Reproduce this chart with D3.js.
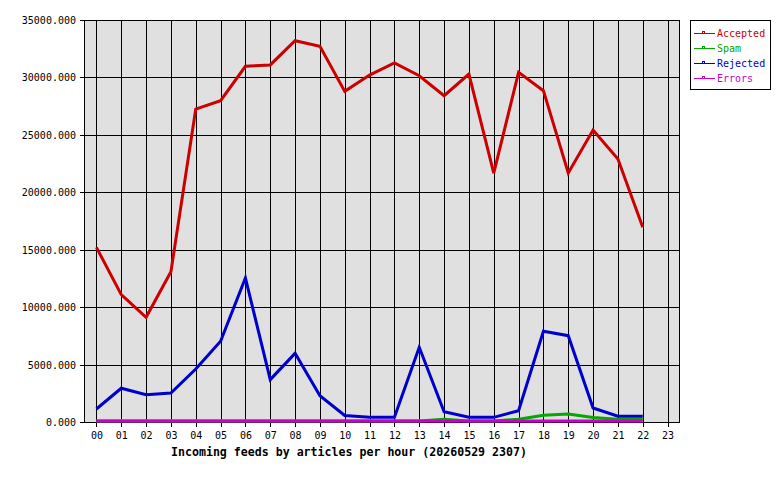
<!DOCTYPE html>
<html>
<head>
<meta charset="utf-8">
<script src="https://cdn.jsdelivr.net/npm/d3@7"></script>
<style>
  html, body { margin: 0; padding: 0; background: #ffffff; }
  svg { display: block; }
  text { font-family: "DejaVu Sans Mono", "Liberation Mono", monospace; }
</style>
</head>
<body>
<svg id="chart" width="780" height="480"></svg>
<script>
const hours = ["00","01","02","03","04","05","06","07","08","09","10","11","12","13","14","15","16","17","18","19","20","21","22","23"];
const accepted = [15120, 11000, 9030, 13000, 27160, 27890, 30880, 31000, 33110, 32620, 28700, 30120, 31170, 30060, 28320, 30210, 21590, 30360, 28760, 21590, 25330, 22810, 16860];
const spam = [0, 0, 0, 0, 0, 0, 0, 0, 0, 0, 0, 0, 0, 0, 150, 0, 0, 150, 500, 600, 300, 150, 150];
const rejected = [1045, 2850, 2290, 2440, 4530, 6940, 12450, 3600, 5890, 2200, 480, 320, 320, 6420, 810, 320, 320, 900, 7810, 7430, 1130, 410, 410];
const errors = [0, 0, 0, 0, 0, 0, 0, 0, 0, 0, 0, 0, 0, 0, 0, 0, 0, 0, 0, 0, 0, 0, 0];
const yTicks = [0, 5000, 10000, 15000, 20000, 25000, 30000, 35000];
const seriesNames = ["Accepted", "Spam", "Rejected", "Errors"];
const seriesColors = ["#cc0000", "#00aa00", "#0000cc", "#cc00cc"];
const title = "Incoming feeds by articles per hour (20260529 2307)";

const svg = d3.select("#chart");
const L = 84, R = 680, T = 20, B = 422;

const x = d3.scalePoint().domain(hours).range([L, R]).padding(0.5);
const y = d3.scaleLinear().domain([0, 35000]).range([B, T]);
const px = v => Math.round(v) + 0.5;

// plot background
svg.append("rect").attr("x", L).attr("y", T).attr("width", R - L).attr("height", B - T)
  .attr("fill", "#e0e0e0");

// grid
const grid = svg.append("g").attr("stroke", "#000").attr("stroke-width", 1).attr("shape-rendering", "crispEdges");
hours.forEach(h => {
  grid.append("line").attr("x1", px(x(h))).attr("x2", px(x(h))).attr("y1", T).attr("y2", B + 5);
});
yTicks.forEach(t => {
  grid.append("line").attr("x1", L - 4).attr("x2", R).attr("y1", px(y(t))).attr("y2", px(y(t)));
});
// frame
grid.append("rect").attr("x", L + 0.5).attr("y", T + 0.5).attr("width", R - L - 1).attr("height", B - T)
  .attr("fill", "none");

// y labels
svg.append("g").selectAll("text").data(yTicks).join("text")
  .attr("x", 76).attr("y", d => y(d) + 4)
  .attr("text-anchor", "end").attr("font-size", "10px").attr("fill", "#000")
  .text(d => d3.format(".3f")(d));

// x labels
svg.append("g").selectAll("text").data(hours).join("text")
  .attr("x", d => x(d) + 0.5).attr("y", 438.5)
  .attr("text-anchor", "middle").attr("font-size", "10px").attr("fill", "#000")
  .text(d => d);

// title
svg.append("text").attr("x", 171).attr("y", 455.5).attr("font-size", "11.6px").attr("font-weight", "bold")
  .attr("fill", "#000").text(title);

// series lines
const allSeries = [accepted, spam, rejected, errors];
const line = d3.line().x((d, i) => x(hours[i])).y(d => y(d) - 1);
allSeries.forEach((s, k) => {
  svg.append("path").datum(s).attr("d", line)
    .attr("fill", "none").attr("stroke", seriesColors[k]).attr("stroke-width", 3)
    .attr("stroke-linejoin", "miter");
});

// legend
const lg = svg.append("g");
lg.append("rect").attr("x", 690.5).attr("y", 20.5).attr("width", 80).attr("height", 69)
  .attr("fill", "#fff").attr("stroke", "#000").attr("stroke-width", 1).attr("shape-rendering", "crispEdges");
seriesNames.forEach((n, k) => {
  const yy = 33.5 + k * 15;
  lg.append("line").attr("x1", 694).attr("x2", 715).attr("y1", yy).attr("y2", yy)
    .attr("stroke", seriesColors[k]).attr("stroke-width", 1).attr("shape-rendering", "crispEdges");
  lg.append("rect").attr("x", 702.5).attr("y", yy - 2).attr("width", 2).attr("height", 2)
    .attr("fill", "none").attr("stroke", seriesColors[k]).attr("stroke-width", 1).attr("shape-rendering", "crispEdges");
  lg.append("text").attr("x", 717).attr("y", yy + 3.5).attr("font-size", "10px")
    .attr("fill", seriesColors[k]).text(n);
});
</script>
</body>
</html>
